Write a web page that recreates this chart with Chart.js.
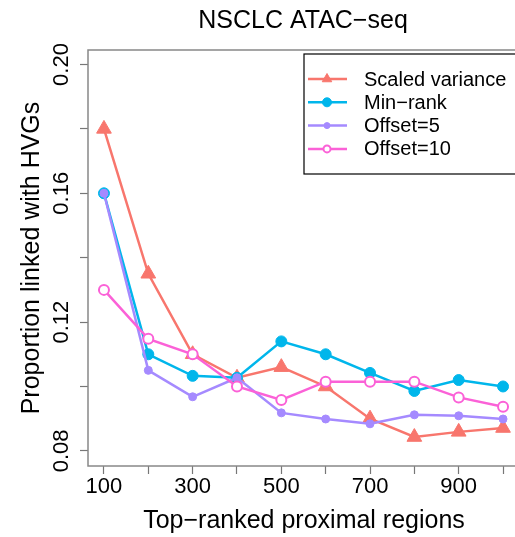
<!DOCTYPE html>
<html>
<head>
<meta charset="utf-8">
<script src="https://cdn.jsdelivr.net/npm/chart.js@4/dist/chart.umd.min.js"></script>
<style>
  html, body { margin: 0; padding: 0; background: #fff; overflow: hidden; }
  #wrap { width: 540px; height: 537px; }
</style>
</head>
<body>
<div id="wrap"><canvas id="chart" width="540" height="537"></canvas></div>
<script>
// data
const regions = [100, 200, 300, 400, 500, 600, 700, 800, 900, 1000];
const scaledVariance = [0.180, 0.135, 0.110, 0.1027, 0.106, 0.100, 0.090, 0.0843, 0.0859, 0.0871];
const minRank = [0.160, 0.110, 0.1033, 0.1027, 0.114, 0.110, 0.1042, 0.0986, 0.102, 0.100];
const offset5 = [0.160, 0.105, 0.0968, 0.1027, 0.0918, 0.0899, 0.0884, 0.0912, 0.0909, 0.0899];
const offset10 = [0.130, 0.1148, 0.110, 0.100, 0.0958, 0.1015, 0.1015, 0.1015, 0.0966, 0.0937];

const xTicks = [100, 200, 300, 400, 500, 600, 700, 800, 900, 1000];
const xTickLabels = ['100', '', '300', '', '500', '', '700', '', '900', ''];
const yTicks = [0.08, 0.10, 0.12, 0.14, 0.16, 0.18, 0.20];
const yTickLabels = ['0.08', '', '0.12', '', '0.16', '', '0.20'];

const FONT = '"Liberation Sans", Arial, sans-serif';

const pts = arr => arr.map((v, i) => ({ x: regions[i], y: v }));

// legend entries in display order
const series = [
  { label: 'Scaled variance', data: scaledVariance, color: '#F8766D', style: 'triangle', r: 8.5, lr: 5.5, fill: true },
  { label: 'Min\u2212rank', data: minRank, color: '#00B6EB', style: 'circle', r: 5.5, lr: 4.5, fill: true },
  { label: 'Offset=5', data: offset5, color: '#A58AFF', style: 'circle', r: 4, lr: 3, fill: true },
  { label: 'Offset=10', data: offset10, color: '#FB61D7', style: 'circle', r: 5, lr: 3.5, fill: false }
];

// chart.js paints dataset 0 last, so reverse to keep Offset=10 on top
const datasets = series.slice().reverse().map(s => ({
  label: s.label,
  data: pts(s.data),
  borderColor: s.color,
  borderWidth: 2.5,
  pointStyle: s.style,
  pointRadius: s.r,
  pointBackgroundColor: s.fill ? s.color : '#ffffff',
  pointBorderColor: s.color,
  pointBorderWidth: s.fill ? 1 : 2,
  tension: 0
}));

const extras = {
  id: 'extras',
  afterDraw(chart) {
    const ctx = chart.ctx;
    const a = chart.chartArea;
    const ys = chart.scales.y;
    ctx.save();

    // plot box
    ctx.strokeStyle = '#888';
    ctx.lineWidth = 1.5;
    ctx.strokeRect(a.left, a.top, a.right - a.left, a.bottom - a.top);

    // title
    ctx.fillStyle = '#000';
    ctx.textAlign = 'center';
    ctx.textBaseline = 'middle';
    ctx.font = '25px ' + FONT;
    ctx.fillText('NSCLC ATAC\u2212seq', 303, 21);

    // x title
    ctx.font = '25px ' + FONT;
    ctx.fillText('Top\u2212ranked proximal regions', 304, 521);

    // rotated y tick labels
    ctx.font = '22px ' + FONT;
    yTicks.forEach((v, i) => {
      if (!yTickLabels[i]) return;
      ctx.save();
      ctx.translate(62, ys.getPixelForValue(v));
      ctx.rotate(-Math.PI / 2);
      ctx.fillText(yTickLabels[i], 0, 0);
      ctx.restore();
    });

    // y title
    ctx.save();
    ctx.translate(32, (a.top + a.bottom) / 2);
    ctx.rotate(-Math.PI / 2);
    ctx.font = '25px ' + FONT;
    ctx.fillText('Proportion linked with HVGs', 0, 0);
    ctx.restore();

    // legend
    ctx.strokeStyle = '#000';
    ctx.lineWidth = 1.2;
    ctx.strokeRect(304, 54, 240, 120);
    ctx.textAlign = 'left';
    ctx.font = '20px ' + FONT;
    series.forEach((s, i) => {
      const y = 79 + i * 23.3;
      ctx.strokeStyle = s.color;
      ctx.lineWidth = 2.5;
      ctx.beginPath();
      ctx.moveTo(308, y);
      ctx.lineTo(347, y);
      ctx.stroke();
      ctx.fillStyle = s.fill ? s.color : '#fff';
      ctx.strokeStyle = s.color;
      ctx.lineWidth = s.fill ? 1 : 2;
      Chart.helpers.drawPoint(ctx, { pointStyle: s.style, radius: s.lr, borderWidth: s.fill ? 1 : 2, rotation: 0 }, 327, y);
      ctx.fillStyle = '#000';
      ctx.fillText(s.label, 364, y + 1);
    });
    ctx.restore();
  }
};

new Chart(document.getElementById('chart'), {
  type: 'line',
  data: { datasets },
  options: {
    responsive: false,
    animation: false,
    layout: { padding: { top: 50, right: 21, left: 0, bottom: 0 } },
    plugins: { legend: { display: false }, tooltip: { enabled: false }, title: { display: false } },
    scales: {
      x: {
        type: 'linear',
        min: 64,
        max: 1036,
        afterBuildTicks: s => { s.ticks = xTicks.map(v => ({ value: v })); },
        afterFit: s => { s.height = 71; },
        grid: { drawOnChartArea: false, drawTicks: true, tickLength: 8, color: '#777', tickWidth: 1.2 },
        border: { display: false },
        ticks: {
          autoSkip: false,
          maxRotation: 0,
          padding: 0,
          color: '#000',
          font: { size: 22, family: FONT },
          callback: (v) => { const i = xTicks.indexOf(v); return i >= 0 ? xTickLabels[i] : ''; }
        }
      },
      y: {
        type: 'linear',
        min: 0.0753,
        max: 0.2045,
        afterBuildTicks: s => { s.ticks = yTicks.map(v => ({ value: v })); },
        afterFit: s => { s.width = 88; },
        grid: { drawOnChartArea: false, drawTicks: true, tickLength: 8, color: '#777', tickWidth: 1.2 },
        border: { display: false },
        ticks: { display: true, callback: () => '', padding: 0 }
      }
    }
  },
  plugins: [extras]
});
</script>
</body>
</html>
